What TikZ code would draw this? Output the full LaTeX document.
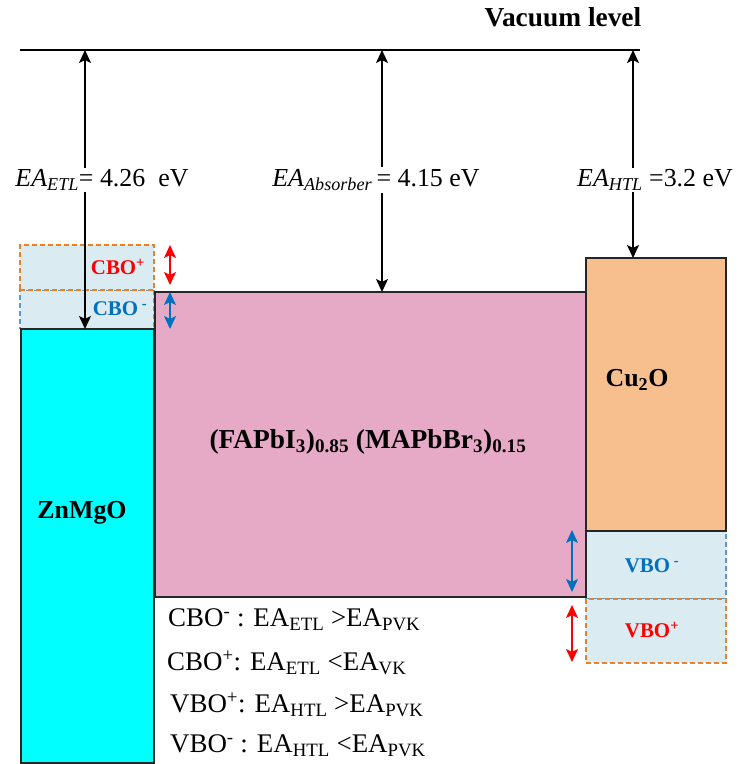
\documentclass[tikz,border=0pt]{standalone}
\usepackage{fontspec}
\setmainfont{Liberation Serif}
\usetikzlibrary{arrows.meta}
\definecolor{zncol}{HTML}{00FFFF}
\definecolor{pvkcol}{HTML}{E7AAC6}
\definecolor{cucol}{HTML}{F8BF8E}
\definecolor{offcol}{HTML}{DAEBF2}
\definecolor{dashor}{HTML}{E8822A}
\definecolor{dashbl}{HTML}{5B9BD5}
\definecolor{txtbl}{HTML}{0070C0}
\definecolor{txtred}{HTML}{FF0000}
\definecolor{edge}{HTML}{262626}
\begin{document}
\begin{tikzpicture}[x=1bp,y=-1bp,
  layer/.style={draw=edge,line width=1.3bp,inner sep=0pt,outer sep=0pt,anchor=center},
  offbox/.style={fill=offcol,dashed,dash pattern=on 5bp off 3bp,line width=1.1bp,inner sep=0pt,outer sep=0pt},
  bigtxt/.style={font=\fontsize{26}{30}\selectfont\bfseries,inner sep=0pt},
  offtxt/.style={font=\fontsize{21}{24}\selectfont\bfseries,inner sep=0pt},
  eatxt/.style={font=\fontsize{26}{30}\selectfont,fill=white,inner sep=2pt},
  legtxt/.style={font=\fontsize{27}{30}\selectfont,inner sep=0pt,anchor=west},
  dbl/.style={{Stealth[length=13bp,width=12bp,inset=3bp]}-{Stealth[length=13bp,width=12bp,inset=3bp]},line width=1.4bp},
  vac/.style={line width=1.5bp,draw=black}
]
\useasboundingbox (0,0) rectangle (738,764);
% offset boxes
\node[offbox,draw=dashbl,minimum width=134bp,minimum height=39bp] (cbom) at (87,309.5) {};
\node[offbox,draw=dashor,minimum width=134bp,minimum height=45bp] (cbop) at (87,267.5) {};
\node[offbox,draw=dashbl,minimum width=140bp,minimum height=68bp] (vbom) at (656,565) {};
\node[offbox,draw=dashor,minimum width=140bp,minimum height=64bp] (vbop) at (656,631) {};
% layers
\node[layer,fill=zncol,minimum width=133bp,minimum height=434bp] (zn) at (87.5,546) {};
\node[layer,fill=pvkcol,minimum width=431bp,minimum height=305bp] (pvk) at (370.5,444.5) {};
\node[layer,fill=cucol,minimum width=140bp,minimum height=273bp] (cu) at (656,394.5) {};
% vacuum level
\coordinate (vl) at (20,50);
\coordinate (vr) at (640,50);
\draw[vac] (vl) -- (vr);
\node[bigtxt,font=\fontsize{27.5}{30}\selectfont\bfseries] (vactxt) at (563,17) {Vacuum level};
\coordinate (a1) at (85,50);
\coordinate (a2) at (382,50);
\coordinate (a3) at (633,50);
\draw[dbl] (a1) -- (a1 |- zn.north);
\draw[dbl] (a2) -- (a2 |- pvk.north);
\draw[dbl] (a3) -- (a3 |- cu.north);
\node[eatxt] (ea1) at (102,180) {\textit{EA}\textsubscript{\textit{ETL}}= 4.26 \ eV};
\node[eatxt] (ea2) at (376,180) {\textit{EA}\textsubscript{\textit{Absorber}}\,= 4.15 eV};
\node[eatxt] (ea3) at (655,180) {\textit{EA}\textsubscript{\textit{HTL}} =3.2 eV};
% offset arrows
\coordinate (r1t) at (170,245);
\coordinate (r1b) at (170,285);
\coordinate (b1t) at (170,292);
\coordinate (b1b) at (170,329);
\coordinate (b2t) at (572,530);
\coordinate (b2b) at (572,592);
\coordinate (r2t) at (572,605);
\coordinate (r2b) at (572,662);
\draw[dbl,txtred] (r1t) -- (r1b);
\draw[dbl,txtbl] (b1t) -- (b1b);
\draw[dbl,txtbl] (b2t) -- (b2b);
\draw[dbl,txtred] (r2t) -- (r2b);
% labels
\node[offtxt,text=txtred] (cbopt) at (118,267) {CBO\textsuperscript{+}};
\node[offtxt,text=txtbl] (cbomt) at (120,309) {CBO\textsuperscript{ -}};
\node[offtxt,text=txtbl] (vbomt) at (652,566) {VBO\textsuperscript{ -}};
\node[offtxt,text=txtred] (vbopt) at (652,630) {VBO\textsuperscript{+}};
\node[bigtxt] (zntxt) at (82,513) {ZnMgO};
\node[bigtxt] (cutxt) at (637,380) {Cu\textsubscript{2}O};
\node[bigtxt,font=\fontsize{27.5}{30}\selectfont\bfseries] (pvktxt) at (368,442) {(FAPbI\textsubscript{3})\textsubscript{0.85} (MAPbBr\textsubscript{3})\textsubscript{0.15}};
% legend
\node[legtxt] (l1) at (168,620) {CBO\textsuperscript{-} : EA\textsubscript{ETL} >EA\textsubscript{PVK}};
\node[legtxt] (l2) at (167,663) {CBO\textsuperscript{+}: EA\textsubscript{ETL} <EA\textsubscript{VK}};
\node[legtxt] (l3) at (170,705) {VBO\textsuperscript{+}: EA\textsubscript{HTL} >EA\textsubscript{PVK}};
\node[legtxt] (l4) at (170,746) {VBO\textsuperscript{-} : EA\textsubscript{HTL} <EA\textsubscript{PVK}};
\end{tikzpicture}
\end{document}
